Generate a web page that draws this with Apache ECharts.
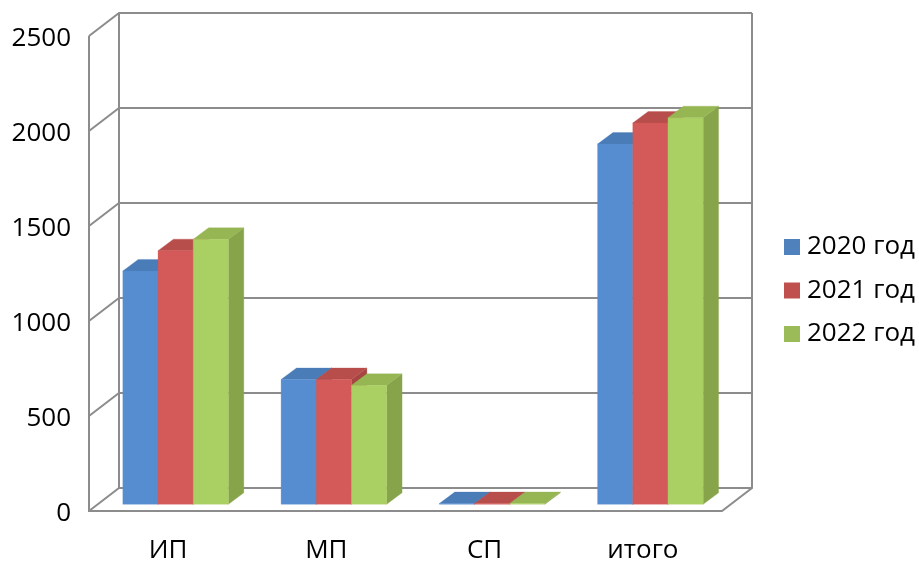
<!DOCTYPE html>
<html><head><meta charset="utf-8">
<style>html,body{margin:0;padding:0;background:#fff}#c{width:919px;height:579px}</style>
<script src="https://cdn.jsdelivr.net/npm/echarts@6/dist/echarts.min.js"></script>
</head><body><div id="c"></div>
<script>
const categories = ['ИП','МП','СП','итого'];
const years = ['2020 год','2021 год','2022 год'];
const values2020 = [1228, 657, 4, 1896];
const values2021 = [1335, 657, 4, 2007];
const values2022 = [1395, 626, 4, 2035];
const yTicks = [0,500,1000,1500,2000,2500];
const legendColors = ['#4F81BD','#C0504D','#9BBB59'];
const frontColors = ['#568DD1','#D35A58','#AACF62'];
const topColors = ['#4A7CB8','#B84E4B','#96B553'];
const sideColors = ['#3F6EA8','#A64542','#87A44B'];
const WALL = '#8C8C8C', WX = 30, WY = 23, FX = 7.5, FY = 6.7, DX = 15.4, DY = 11.5, BAR = 0.2224;

function barSeries(name, data, si){
  return {
    name, type:'custom', coordinateSystem:'cartesian2d', z:3,
    itemStyle:{color:legendColors[si]},
    encode:{x:0,y:1},
    data:data.map((v,i)=>[i,v]),
    renderItem(params,api){
      const p = api.coord([api.value(0),api.value(1)]);
      const p0 = api.coord([api.value(0),0]);
      const w = api.size([1,0])[0]*BAR;
      const x0 = p[0]+FX+(si-1.5)*w, x1 = x0+w, yt = p[1]-FY, yb = p0[1]-FY;
      const poly=(pts,c)=>({type:'polygon',shape:{points:pts},style:{fill:c,stroke:c,lineWidth:0.3}});
      return {type:'group',children:[
        poly([[x1,yb],[x1+DX,yb-DY],[x1+DX,yt-DY],[x1,yt]],sideColors[si]),
        poly([[x0,yt],[x0+DX,yt-DY],[x1+DX,yt-DY],[x1,yt]],topColors[si]),
        poly([[x0,yb],[x1,yb],[x1,yt],[x0,yt]],frontColors[si])
      ]};
    }
  };
}
const wallSeries = {
  type:'custom', coordinateSystem:'cartesian2d', z:1, silent:true, clip:false,
  encode:{y:0}, data:yTicks.map(v=>[v]),
  renderItem(params,api){
    const v = api.value(0);
    const band = api.size([1,0])[0];
    const xLeft = api.coord([0,v])[0]-band/2;
    const xRight = xLeft+band*categories.length;
    const y = api.coord([0,v])[1];
    const y0 = api.coord([0,0])[1], yTop = api.coord([0,yTicks[yTicks.length-1]])[1];
    const line=(pts)=>({type:'polyline',shape:{points:pts},style:{fill:null,stroke:WALL,lineWidth:2}});
    const ch=[line([[xLeft,y],[xLeft+WX,y-WY],[xRight+WX,y-WY]])];
    if(v===0){
      ch.push(line([[xLeft,yTop],[xLeft,y0],[xRight,y0],[xRight+WX,y0-WY],[xRight+WX,yTop-WY]]));
      ch.push(line([[xLeft+WX,y0-WY],[xLeft+WX,yTop-WY]]));
    }
    return {type:'group',children:ch};
  }
};
const chart = echarts.init(document.getElementById('c'),null,{renderer:'canvas'});
chart.setOption({
  animation:false,
  backgroundColor:'#fff',
  textStyle:{fontFamily:'"Open Sans"'},
  grid:{left:89,top:36,width:633,height:475,containLabel:false},
  legend:{
    left:784, top:234, orient:'vertical', selectedMode:false, icon:'rect',
    data:years, itemWidth:16, itemHeight:16, itemGap:17.5, padding:0,
    textStyle:{fontFamily:'"Open Sans"',fontSize:26,color:'#000',padding:[2,0,0,2]}
  },
  xAxis:{type:'category',data:categories,
    axisLine:{show:false},axisTick:{show:false},splitLine:{show:false},
    axisLabel:{fontFamily:'"Open Sans"',fontSize:26,color:'#000',margin:27}},
  yAxis:{type:'value',min:0,max:2500,interval:500,
    axisLine:{show:false},axisTick:{show:false},splitLine:{show:false},
    axisLabel:{fontFamily:'"Open Sans"',fontSize:26,color:'#000',margin:18,verticalAlign:'top',lineHeight:5,formatter:v=>String(v)}},
  series:[wallSeries,barSeries(years[0],values2020,0),barSeries(years[1],values2021,1),barSeries(years[2],values2022,2)]
});
</script></body></html>
